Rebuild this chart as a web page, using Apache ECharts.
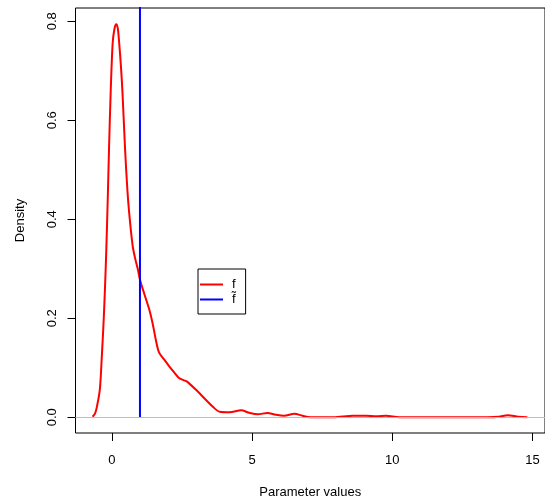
<!DOCTYPE html>
<html>
<head>
<meta charset="utf-8">
<script src="https://cdn.jsdelivr.net/npm/echarts@6/dist/echarts.min.js"></script>
<style>html,body{margin:0;padding:0;background:#fff;}#chart{width:545px;height:504px;}</style>
</head>
<body>
<div id="chart"></div>
<script>
// Density curve of parameter values
var densX = [-0.69, -0.6, -0.53, -0.43, -0.36, -0.3, -0.25, -0.2, -0.15, -0.105, -0.046, 0.025, 0.09, 0.155, 0.21, 0.26, 0.32, 0.377, 0.47, 0.55, 0.62, 0.74, 0.84, 0.92, 1.0, 1.15, 1.33, 1.45, 1.56, 1.68, 1.86, 2.03, 2.2, 2.38, 2.55, 2.68, 2.97, 3.32, 3.62, 3.85, 4.2, 4.61, 4.9, 5.2, 5.55, 5.85, 6.14, 6.51, 6.8, 7.08, 7.9, 8.6, 9.07, 9.43, 9.78, 10.25, 13.4, 13.8, 14.12, 14.5, 14.82];
var densY = [0.001, 0.008, 0.023, 0.057, 0.124, 0.19, 0.258, 0.34, 0.44, 0.54, 0.655, 0.755, 0.785, 0.794, 0.785, 0.755, 0.71, 0.655, 0.54, 0.46, 0.41, 0.346, 0.318, 0.300, 0.278, 0.25, 0.218, 0.19, 0.158, 0.131, 0.117, 0.104, 0.092, 0.08, 0.075, 0.072, 0.057, 0.037, 0.02, 0.011, 0.010, 0.014, 0.009, 0.006, 0.0087, 0.005, 0.003, 0.0073, 0.003, 0.0, 0.0, 0.003, 0.003, 0.002, 0.003, 0.0, 0.0, 0.001, 0.004, 0.001, 0.0];
// Reference value (vertical line)
var refX = [1, 1];
var refY = [0, 1];
var xTicks = [0, 5, 10, 15];
var yTicks = [0, 0.2, 0.4, 0.6, 0.8];
var seriesNames = ['f', 'f\u0303'];

var curve = densX.map(function (x, i) { return [x, densY[i]]; });
var refLine = refX.map(function (x, i) { return [x, refY[i]]; });

var FONT = 'Liberation Sans, Arial, Helvetica, sans-serif';
var chart = echarts.init(document.getElementById('chart'), null, {renderer: 'canvas'});
chart.setOption({
  animation: false,
  backgroundColor: '#fff',
  textStyle: {fontFamily: FONT},
  grid: {left: 75.5, top: 8, width: 475.7, height: 425, show: true, borderColor: '#000', borderWidth: 1, backgroundColor: 'transparent', containLabel: false},
  legend: {
    left: 198, top: 269,
    orient: 'vertical',
    data: seriesNames,
    icon: 'rect',
    borderColor: '#000', borderWidth: 1,
    padding: [9, 10, 8, 2],
    itemGap: 2,
    itemWidth: 23, itemHeight: 2,
    textStyle: {fontFamily: FONT, fontSize: 13, color: '#000', lineHeight: 13, padding: [0, 0, 0, 4]},
    selectedMode: false
  },
  xAxis: {
    type: 'value', min: -1.3, max: 15.45,
    axisLine: {show: false, onZero: false},
    axisTick: {show: true, length: 8, inside: false, lineStyle: {color: '#000'}, customValues: xTicks},
    axisLabel: {customValues: xTicks, color: '#000', fontSize: 13, fontFamily: FONT, margin: 21},
    splitLine: {show: false},
    name: 'Parameter values', nameLocation: 'middle', nameGap: 53,
    nameTextStyle: {fontSize: 13, color: '#000', fontFamily: FONT}
  },
  yAxis: {
    type: 'value', min: -0.0318, max: 0.8268,
    axisLine: {show: false, onZero: false},
    axisTick: {show: true, length: 8, inside: false, lineStyle: {color: '#000'}, customValues: yTicks},
    axisLabel: {customValues: yTicks, color: '#000', fontSize: 13, fontFamily: FONT, rotate: 90, margin: 17,
      formatter: function (v) { return v.toFixed(1); }},
    splitLine: {show: false},
    name: 'Density', nameLocation: 'middle', nameGap: 49, nameRotate: 90,
    nameTextStyle: {fontSize: 13, color: '#000', fontFamily: FONT}
  },
  series: [
    {
      name: seriesNames[0], type: 'line', data: curve,
      showSymbol: false, symbol: 'none', smooth: 0.3,
      lineStyle: {color: '#FF0000', width: 2}, itemStyle: {color: '#FF0000'},
      markLine: {silent: true, symbol: 'none', label: {show: false},
        lineStyle: {color: '#BEBEBE', width: 1, type: 'solid'},
        data: [{yAxis: 0}]},
      z: 3
    },
    {
      name: seriesNames[1], type: 'line', data: refLine,
      showSymbol: false, symbol: 'none', clip: true,
      lineStyle: {color: '#0000FF', width: 2}, itemStyle: {color: '#0000FF'},
      z: 4
    }
  ]
});
</script>
</body>
</html>
